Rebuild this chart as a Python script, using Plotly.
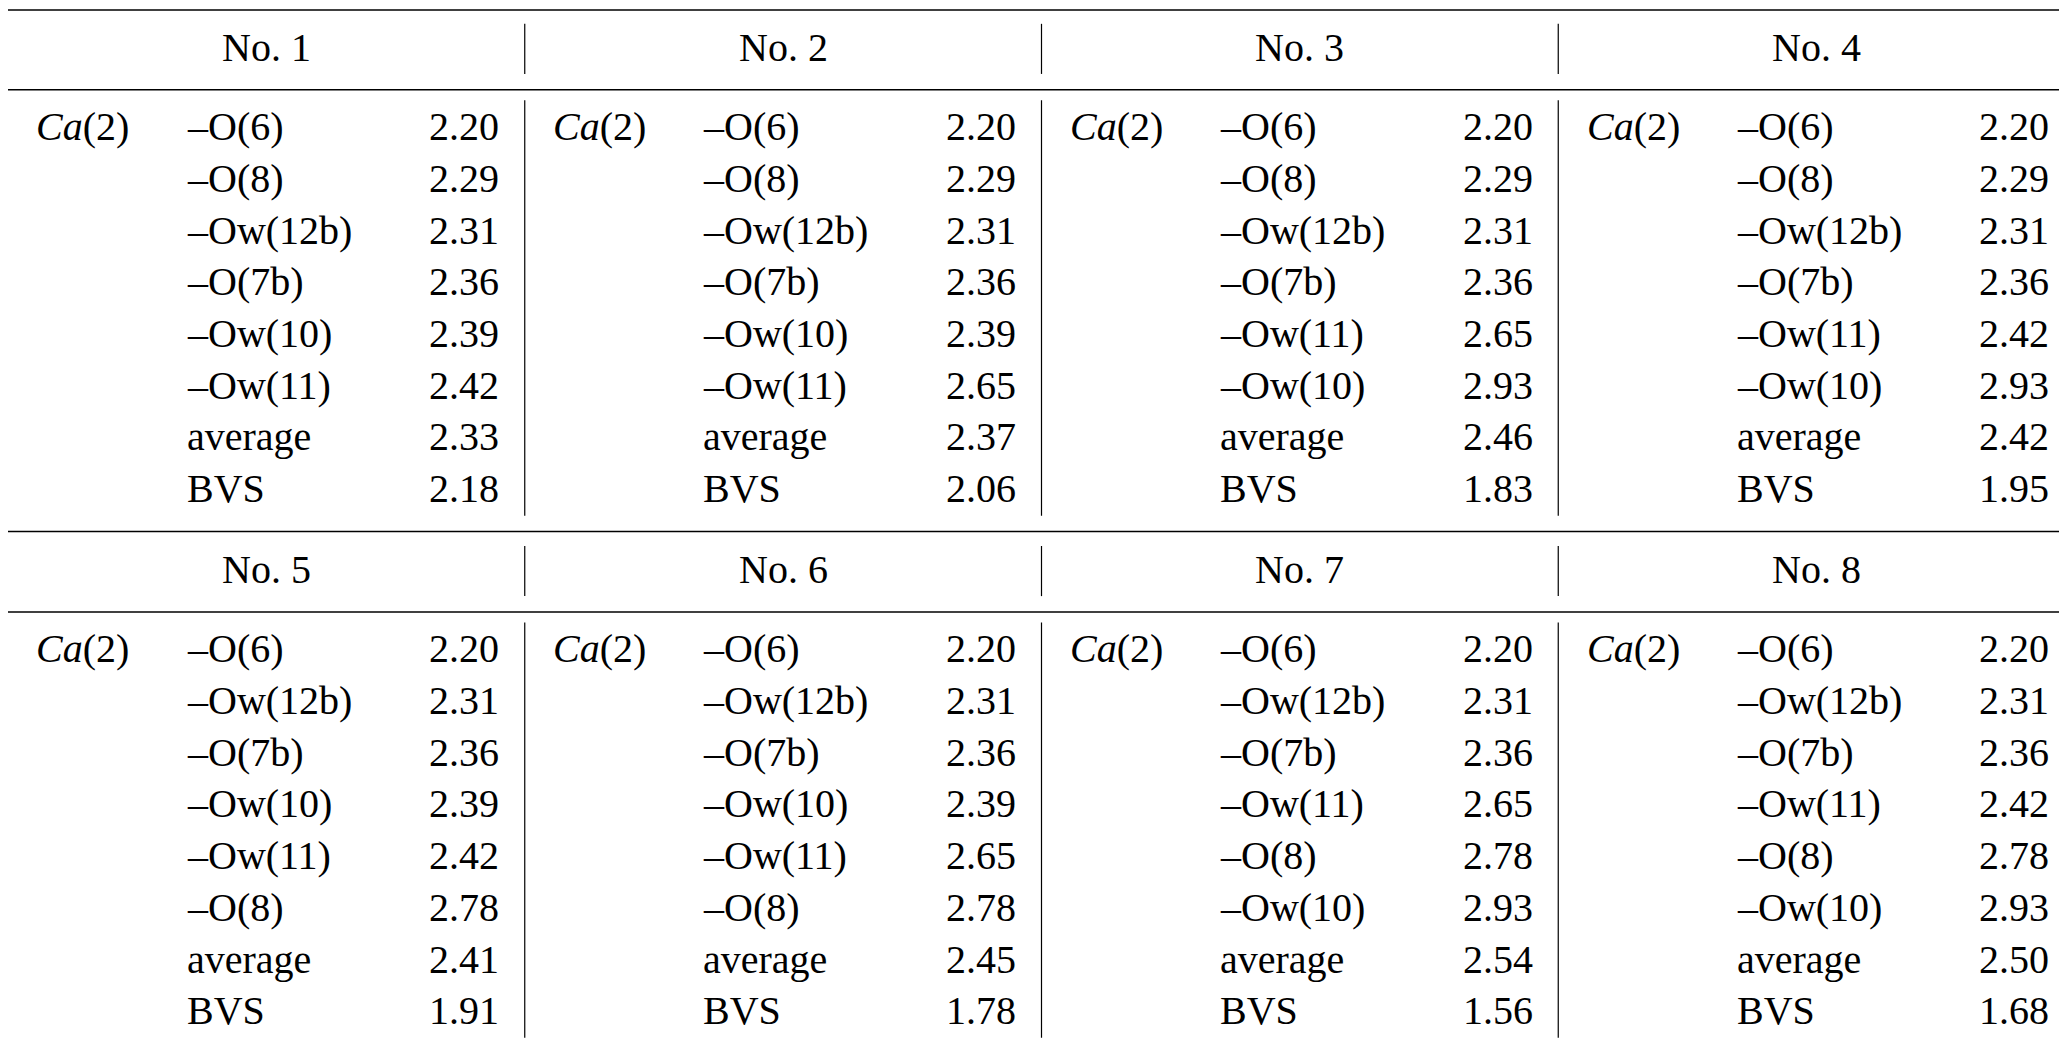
import plotly.graph_objects as go

headers = ["No. 1", "No. 2", "No. 3", "No. 4", "No. 5", "No. 6", "No. 7", "No. 8"]
atom = "<i>Ca</i>(2)"
bonds = [
    ["–O(6)", "–O(8)", "–Ow(12b)", "–O(7b)", "–Ow(10)", "–Ow(11)", "average", "BVS"],
    ["–O(6)", "–O(8)", "–Ow(12b)", "–O(7b)", "–Ow(10)", "–Ow(11)", "average", "BVS"],
    ["–O(6)", "–O(8)", "–Ow(12b)", "–O(7b)", "–Ow(11)", "–Ow(10)", "average", "BVS"],
    ["–O(6)", "–O(8)", "–Ow(12b)", "–O(7b)", "–Ow(11)", "–Ow(10)", "average", "BVS"],
    ["–O(6)", "–Ow(12b)", "–O(7b)", "–Ow(10)", "–Ow(11)", "–O(8)", "average", "BVS"],
    ["–O(6)", "–Ow(12b)", "–O(7b)", "–Ow(10)", "–Ow(11)", "–O(8)", "average", "BVS"],
    ["–O(6)", "–Ow(12b)", "–O(7b)", "–Ow(11)", "–O(8)", "–Ow(10)", "average", "BVS"],
    ["–O(6)", "–Ow(12b)", "–O(7b)", "–Ow(11)", "–O(8)", "–Ow(10)", "average", "BVS"],
]
values = [
    ["2.20", "2.29", "2.31", "2.36", "2.39", "2.42", "2.33", "2.18"],
    ["2.20", "2.29", "2.31", "2.36", "2.39", "2.65", "2.37", "2.06"],
    ["2.20", "2.29", "2.31", "2.36", "2.65", "2.93", "2.46", "1.83"],
    ["2.20", "2.29", "2.31", "2.36", "2.42", "2.93", "2.42", "1.95"],
    ["2.20", "2.31", "2.36", "2.39", "2.42", "2.78", "2.41", "1.91"],
    ["2.20", "2.31", "2.36", "2.39", "2.65", "2.78", "2.45", "1.78"],
    ["2.20", "2.31", "2.36", "2.65", "2.78", "2.93", "2.54", "1.56"],
    ["2.20", "2.31", "2.36", "2.42", "2.78", "2.93", "2.50", "1.68"],
]

W, H = 1568, 794
font = dict(family="Liberation Serif", size=40, color="black")
fig = go.Figure()
ann = []
shapes = []

for half in range(2):
    y0 = half * 396
    # horizontal rules
    for y in ([1.5, 62] if half == 0 else [397, 458]):
        shapes.append(dict(type="line", x0=0, x1=W, y0=y, y1=y, line=dict(color="black", width=1.5)))
    for b in range(4):
        k = half * 4 + b
        bx = b * 392
        ann.append(dict(x=bx + 196, y=y0 + 30, text=headers[k], xanchor="center", yanchor="middle"))
        ann.append(dict(x=bx + 20, y=y0 + 90, text=atom, xanchor="left", yanchor="middle"))
        for r in range(8):
            yy = y0 + 90 + r * 39.2
            ann.append(dict(x=bx + 134, y=yy, text=bonds[k][r], xanchor="left", yanchor="middle"))
            ann.append(dict(x=bx + 374, y=yy, text=values[k][r], xanchor="right", yanchor="middle"))
        if b > 0:
            shapes.append(dict(type="line", x0=bx, x1=bx, y0=y0 + 12, y1=y0 + 50, line=dict(color="black", width=1.2)))
            shapes.append(dict(type="line", x0=bx, x1=bx, y0=y0 + 70, y1=y0 + 385, line=dict(color="black", width=1.2)))

shapes.append(dict(type="line", x0=0, x1=W, y0=791, y1=791, line=dict(color="black", width=1.5)))

for a in ann:
    a.update(xref="x", yref="y", showarrow=False, font=font)

fig.update_layout(
    width=2067, height=1047,
    margin=dict(l=0, r=0, t=0, b=0),
    plot_bgcolor="white", paper_bgcolor="white",
    xaxis=dict(range=[0, W], visible=False, fixedrange=True),
    yaxis=dict(range=[H, 0], visible=False, fixedrange=True),
    annotations=ann, shapes=shapes,
)
fig.write_html("out.html")
